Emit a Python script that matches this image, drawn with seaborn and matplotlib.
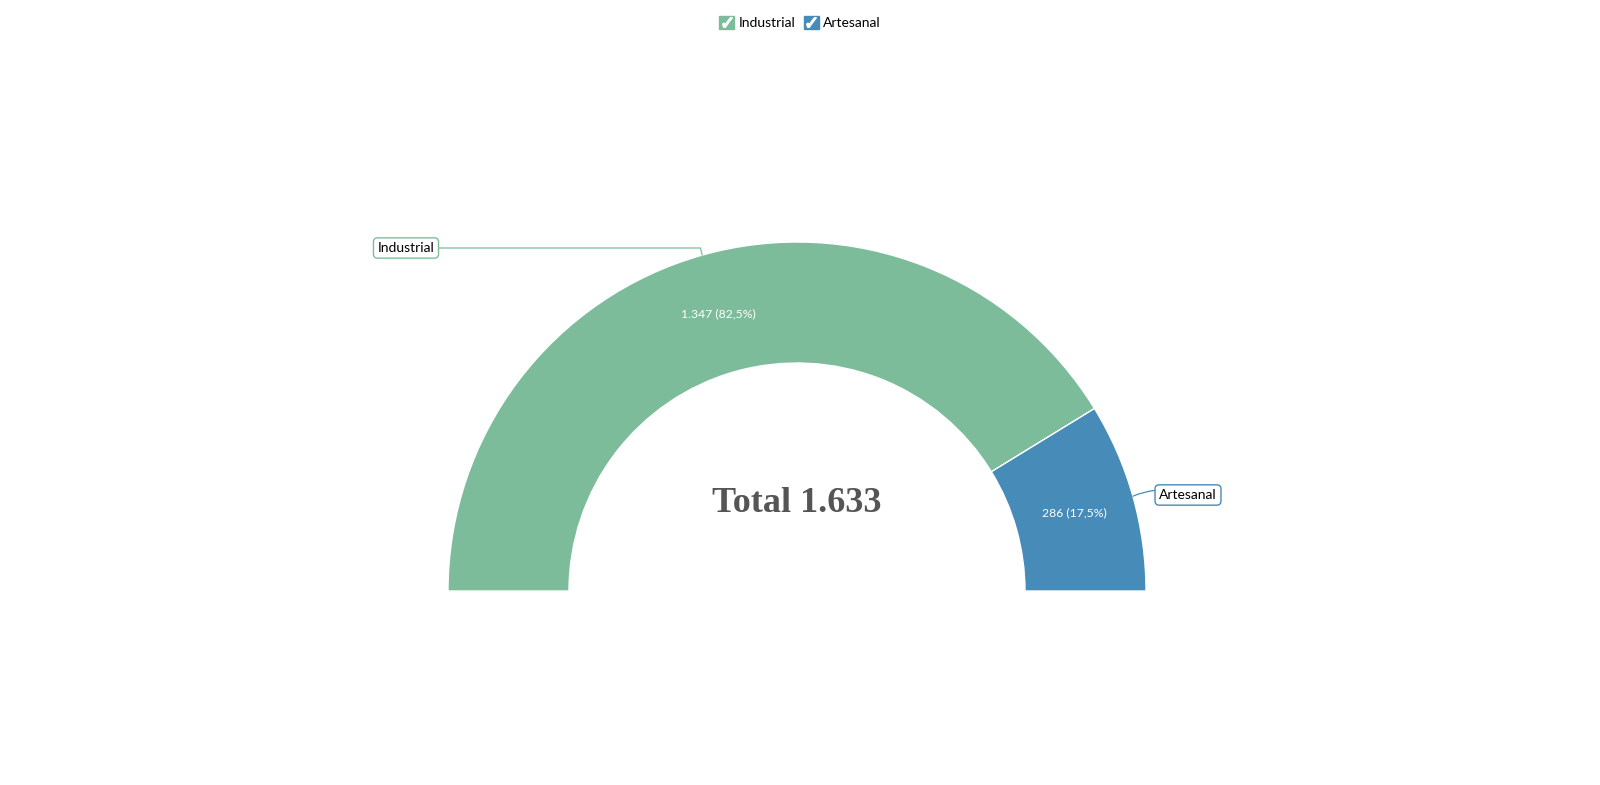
import numpy as np
import matplotlib
matplotlib.use("Agg")
import matplotlib.pyplot as plt
import seaborn as sns
from matplotlib.patches import Patch
from matplotlib.lines import Line2D
from matplotlib.legend_handler import HandlerTuple

sns.set_theme(style='white')
plt.rcParams['font.family'] = ['Lato', 'DejaVu Sans']

categories = ['Industrial', 'Artesanal']
values = [1347, 286]
colors = ['#7DBC9A', '#478BB8']
label_boxes = [(406, 537), (1188, 290)]   # callout centres, pixel coords (y up)

W, H = 1600, 785
total = sum(values)

fig = plt.figure(figsize=(W / 100, H / 100), dpi=100)
ax = fig.add_axes([0, 0, 1, 1])

cx, cy, R, r = 797, 194, 349, 228

wedges, _ = ax.pie(values + [total], colors=colors + ['none'], startangle=180,
                   counterclock=False, center=(cx, cy), radius=R,
                   wedgeprops=dict(width=R - r, edgecolor='white', linewidth=1))
wedges[-1].set_edgecolor('none')
ax.set_xlim(0, W)
ax.set_ylim(0, H)
ax.set_aspect('equal')
ax.axis('off')

for w, cat, v, col, box in zip(wedges, categories, values, colors, label_boxes):
    mid = np.deg2rad((w.theta1 + w.theta2) / 2)
    rm = (R + r) / 2
    pct = f"{100 * v / total:.1f}".replace('.', ',')
    num = f"{v:,}".replace(',', '.')
    ax.text(cx + rm * np.cos(mid), cy + rm * np.sin(mid), f"{num} ({pct}%)",
            color='white', fontsize=8.8, ha='center', va='center')
    px, py = cx + R * np.cos(mid), cy + R * np.sin(mid)
    if px < cx:
        cs = 'angle,angleA=0,angleB=104,rad=0'
    else:
        cs = 'arc3,rad=0.2'
    ax.annotate(cat, xy=(px, py), xytext=box, ha='center', va='center',
                fontsize=10, color='black',
                bbox=dict(boxstyle='round,pad=0.3,rounding_size=0.3',
                          fc='white', ec=col, lw=1),
                arrowprops=dict(arrowstyle='-', color=col, lw=0.9,
                                connectionstyle=cs, shrinkA=0, shrinkB=0))

ax.text(cx, cy + 87, f"Total {total:,}".replace(',', '.'), ha='center', va='center',
        fontsize=26, fontweight='bold', color='#555555', family='Liberation Serif')

handles = [(Patch(facecolor=c, edgecolor=c),
            Line2D([], [], marker='$✓$', color='white', linestyle='', markersize=7))
           for c in colors]
leg = fig.legend(handles, categories, loc='center', bbox_to_anchor=(0.5, 1 - 22.5 / H),
                 ncol=2, frameon=False, fontsize=10, handlelength=1.1, handleheight=1.1,
                 handletextpad=0.3, columnspacing=0.6,
                 handler_map={tuple: HandlerTuple(ndivide=1)})
for t in leg.get_texts():
    t.set_color('black')

fig.savefig('out.png', dpi=100, facecolor='white')
